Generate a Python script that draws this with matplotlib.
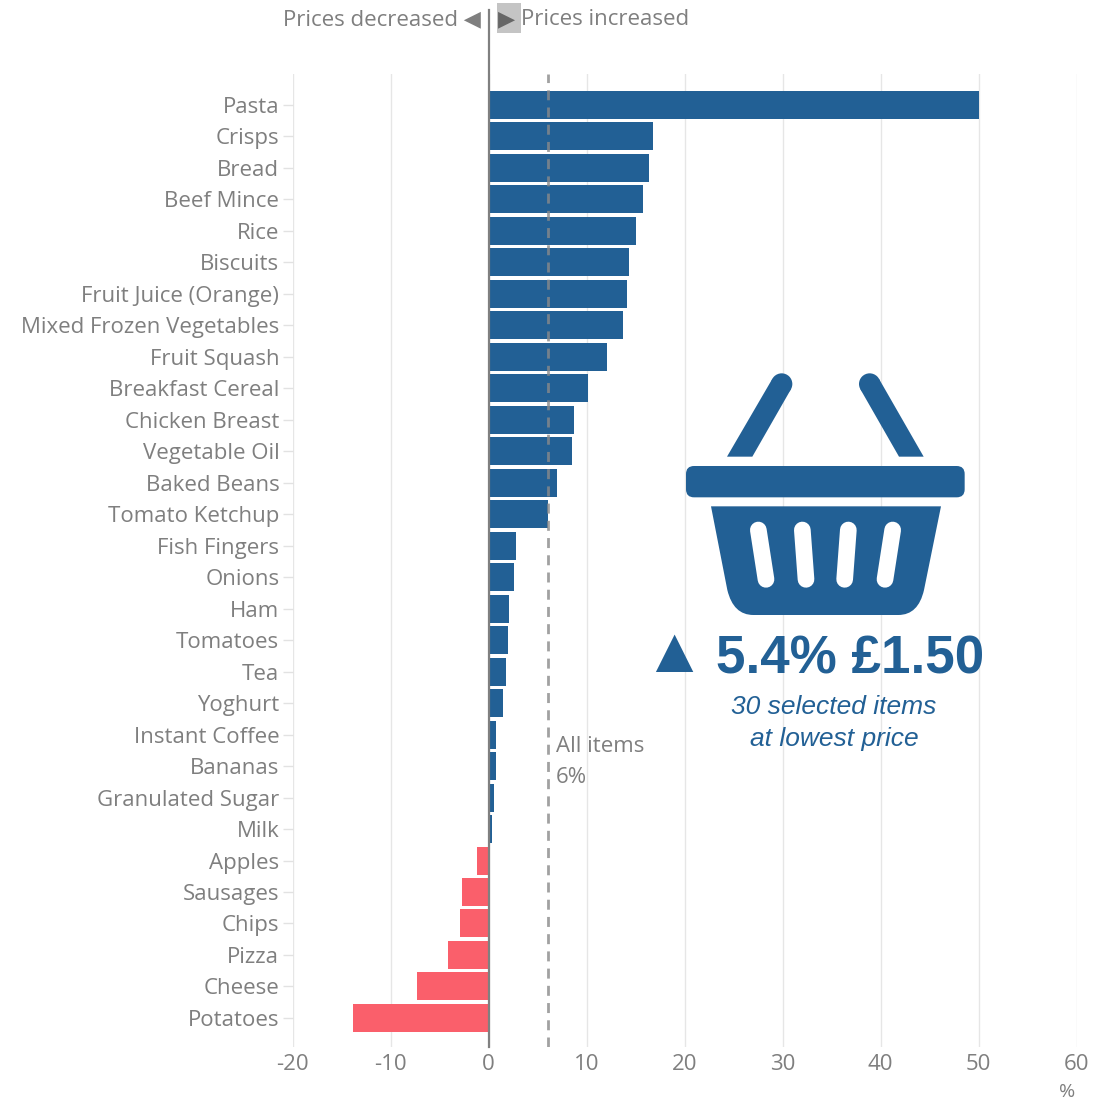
import matplotlib
matplotlib.use("Agg")
import matplotlib.pyplot as plt
from matplotlib.patches import Polygon, Circle, FancyBboxPatch, PathPatch, Rectangle
from matplotlib.path import Path

items = ["Pasta", "Crisps", "Bread", "Beef Mince", "Rice", "Biscuits", "Fruit Juice (Orange)",
         "Mixed Frozen Vegetables", "Fruit Squash", "Breakfast Cereal", "Chicken Breast",
         "Vegetable Oil", "Baked Beans", "Tomato Ketchup", "Fish Fingers", "Onions", "Ham",
         "Tomatoes", "Tea", "Yoghurt", "Instant Coffee", "Bananas", "Granulated Sugar", "Milk",
         "Apples", "Sausages", "Chips", "Pizza", "Cheese", "Potatoes"]
changes = [50.0, 16.8, 16.4, 15.7, 15.0, 14.3, 14.1, 13.7, 12.1, 10.1, 8.7, 8.5, 7.0, 6.0,
           2.8, 2.6, 2.1, 2.0, 1.8, 1.5, 0.7, 0.7, 0.5, 0.3,
           -1.2, -2.7, -2.9, -4.2, -7.3, -13.8]
x_ticks = [-20, -10, 0, 10, 20, 30, 40, 50, 60]
all_items_change = 6

W, H = 1097, 1103
BLUE = "#226095"
RED = "#fa5f6b"
GREY = "#7f7f7f"
FONT = ["Open Sans", "DejaVu Sans"]
ARIAL = ["Liberation Sans", "DejaVu Sans"]

fig = plt.figure(figsize=(W / 100, H / 100), dpi=100, facecolor="white")

# Main bar panel: 9.8 px per percentage point, rows 31.48 px apart
left, right, top, bottom = 292.7, 1076.7, 74.0, 1047.0
ax = fig.add_axes([left / W, 1 - bottom / H, (right - left) / W, (bottom - top) / H])
ax.set_xlim(-20, 60)
ax.set_ylim((bottom - 105) / 31.48, (top - 105) / 31.48)

positions = list(range(len(items)))
colors = [BLUE if v >= 0 else RED for v in changes]
ax.barh(positions, changes, height=0.89, color=colors, zorder=2)

ax.set_yticks(positions, items)
ax.set_xticks(x_ticks, [str(t) for t in x_ticks])
ax.tick_params(axis="y", length=7, width=1, color="#e2e2e2", labelsize=16, labelcolor=GREY, pad=2.6)
ax.tick_params(axis="x", length=0, labelsize=16, labelcolor=GREY, pad=5)
for label in ax.get_yticklabels() + ax.get_xticklabels():
    label.set_family(FONT)
ax.grid(axis="x", color="#e6e6e6", linewidth=1.0, zorder=0)
ax.set_axisbelow(True)
for spine in ax.spines.values():
    spine.set_visible(False)

ax.axvline(all_items_change, color="#8a8a8a", alpha=0.8, linewidth=2, dashes=(3.6, 2.6), zorder=3)
ax.text(all_items_change + 0.85, 20.37, "All items", fontsize=16, color=GREY, family=FONT, va="center")
ax.text(all_items_change + 0.85, 21.37, "6%", fontsize=16, color=GREY, family=FONT, va="center")

# Overlay in pixel coordinates for the header and the basket graphic
ov = fig.add_axes([0, 0, 1, 1], facecolor="none")
ov.set_xlim(0, W)
ov.set_ylim(H, 0)
ov.axis("off")

ov.plot([488.7, 488.7], [10, 1047], color="#808080", linewidth=1.6, zorder=4)
ov.add_patch(Rectangle((497, 3), 24, 30, facecolor="#c4c4c4", edgecolor="none", zorder=1))
ov.text(480.5, 25, "Prices decreased ◀", fontsize=16, color=GREY, family=FONT, ha="right", va="baseline")
ov.text(498, 25, "▶", fontsize=16, color="#666666", family=FONT, ha="left", va="baseline", zorder=3)
ov.text(521, 25, "Prices increased", fontsize=16, color=GREY, family=FONT, ha="left", va="baseline")
ov.text(1067, 1092, "%", fontsize=14, color=GREY, family=FONT, ha="center", va="center")


def px(zx, zy):
    """Convert basket outline coordinates (third-pixel units) to figure pixels."""
    return 640 + zx / 3, 360 + zy / 3


# Handles
ov.add_patch(Polygon([px(261, 290), px(337, 290), px(452.7, 88), px(397.3, 56)], color=BLUE, lw=0))
ov.add_patch(Circle(px(425, 72), 32 / 3, color=BLUE, lw=0))
ov.add_patch(Polygon([px(851, 290), px(777, 290), px(661.3, 88), px(716.7, 56)], color=BLUE, lw=0))
ov.add_patch(Circle(px(689, 72), 32 / 3, color=BLUE, lw=0))

# Rim
rx, ry = px(138, 318)
ov.add_patch(FancyBboxPatch((rx + 8, ry + 8), 836 / 3 - 16, 94 / 3 - 16,
                            boxstyle="round,pad=8,rounding_size=8", color=BLUE, lw=0))

# Body
verts = [px(213, 439), px(903, 439), px(852, 690), px(835, 765), px(775, 765),
         px(340, 765), px(280, 765), px(262, 690), px(213, 439)]
codes = [Path.MOVETO, Path.LINETO, Path.LINETO, Path.CURVE3, Path.CURVE3,
         Path.LINETO, Path.CURVE3, Path.CURVE3, Path.CLOSEPOLY]
ov.add_patch(PathPatch(Path(verts, codes), color=BLUE, lw=0))

# Slots in the body
for (x0, y0), (x1, y1) in [((355, 510), (378, 658)), ((487, 510), (498, 658)),
                           ((625, 510), (614, 658)), ((758, 510), (735, 658))]:
    a, b = px(x0, y0), px(x1, y1)
    ov.plot([a[0], b[0]], [a[1], b[1]], color="white", linewidth=50 / 3 * 0.72,
            solid_capstyle="round")

# Headline figures
ov.text(673.5, 655.5, "▲", fontsize=46, color=BLUE, family=ARIAL, ha="center", va="center")
ov.text(849.8, 660, "5.4% £1.50", fontsize=38.2, fontweight="bold", color=BLUE, family=ARIAL,
        ha="center", va="center")
ov.text(834, 707, "30 selected items", fontsize=19, style="italic", color=BLUE, family=ARIAL,
        ha="center", va="center")
ov.text(834, 739, "at lowest price", fontsize=19, style="italic", color=BLUE, family=ARIAL,
        ha="center", va="center")

fig.savefig("out.png", dpi=100)
